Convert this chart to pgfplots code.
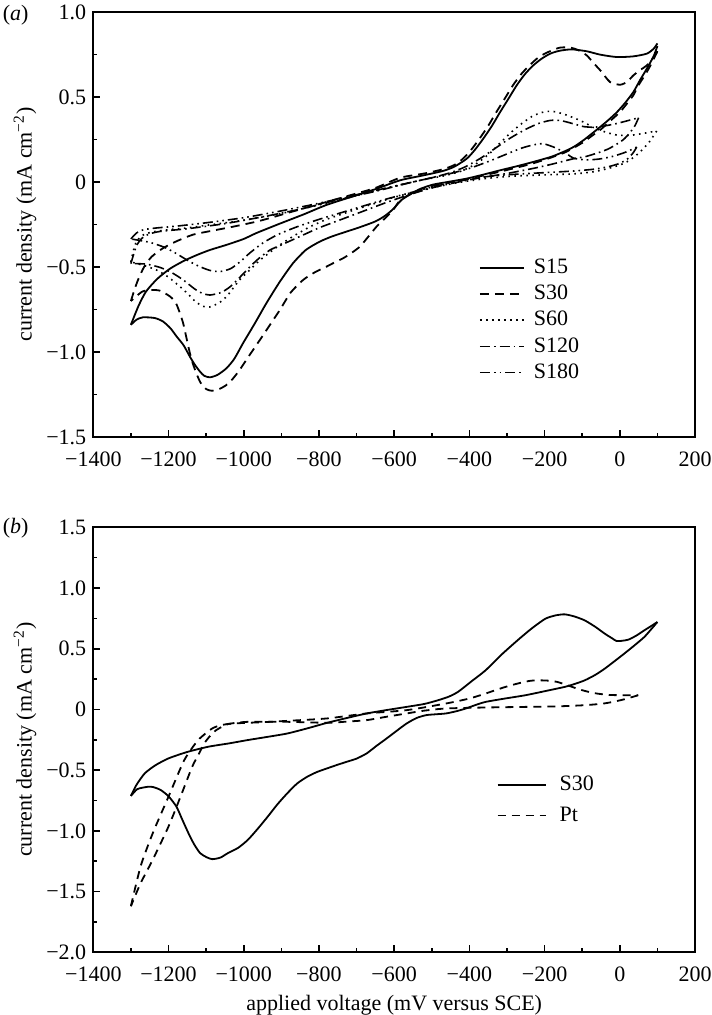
\documentclass[border=0pt]{standalone}
\usepackage{fontspec}
\setmainfont{Liberation Serif}
\usepackage{pgfplots}
\pgfplotsset{compat=1.18}
\begin{document}
\begin{tikzpicture}[font=\fontsize{11}{13}\selectfont]
\useasboundingbox (0,0) rectangle (355.5pt,507.5pt);
\pgfplotsset{
  cvaxis/.style={
    scale only axis, width=300.85pt, height=212.5pt, anchor=south west,
    xmin=-1400, xmax=200,
    xtick={-1400,-1200,-1000,-800,-600,-400,-200,0,200},
    xticklabels={−1400,−1200,−1000,−800,−600,−400,−200,0,200},
    minor x tick num=1, minor y tick num=1,
    tick pos=left, tick align=inside,
    major tick length=3.5pt, minor tick length=2pt,
    axis line style={line width=0.9pt},
    every tick/.style={black, line width=0.8pt},
    xticklabel style={yshift=-4pt},
    ylabel={current density (mA cm\textsuperscript{−2})},
    ylabel style={at={(axis description cs:-0.1135,0.5)}, anchor=center},
    legend cell align=left,
  },
  s15/.style={black, line width=0.9pt, smooth, tension=0.4},
  s30/.style={black, line width=0.9pt, smooth, tension=0.4, dash pattern=on 4.5pt off 3pt},
  s60/.style={black, line width=0.8pt, smooth, tension=0.4, dash pattern=on 0.8pt off 2.2pt},
  s120/.style={black, line width=0.8pt, smooth, tension=0.4, dash pattern=on 5pt off 2pt on 0.8pt off 2pt},
  s180/.style={black, line width=0.8pt, smooth, tension=0.4, dash pattern=on 5pt off 2pt on 0.8pt off 2pt on 0.8pt off 2pt},
}
% ---------------- panel (a) ----------------
\begin{axis}[cvaxis, at={(46.65pt,289pt)},
  ymin=-1.5, ymax=1.0,
  ytick={-1.5,-1,-0.5,0,0.5,1},
  yticklabels={−1.5,−1.0,−0.5,0,0.5,1.0},
  legend image code/.code={\draw[#1] (0pt,0pt) -- (22pt,0pt);},
  legend style={draw=none, fill=none, at={(0.6405,0.427)}, anchor=north west,
    inner sep=0pt, row sep=1.3pt, nodes={inner sep=1.5pt},
    /tikz/every odd column/.append style={column sep=3pt}},
]
% S15
\addplot[s15] coordinates {(-1300,-0.84) (-1280,-0.73) (-1260,-0.645) (-1230,-0.57) (-1196,-0.51) (-1160,-0.465) (-1125,-0.43) (-1090,-0.40) (-1046,-0.37) (-1000,-0.335) (-966,-0.30) (-904,-0.245) (-840,-0.19) (-780,-0.135) (-710,-0.085) (-647,-0.04) (-584,0.01) (-520,0.04) (-470,0.065) (-440,0.09) (-407,0.137) (-385,0.19) (-363,0.255) (-340,0.33) (-318,0.412) (-296,0.49) (-274,0.569) (-252,0.635) (-230,0.686) (-208,0.725) (-185,0.755) (-160,0.772) (-128,0.78) (-88,0.769) (-52,0.749) (-8,0.735) (36,0.739) (72,0.755) (90,0.784) (100,0.815)};
\addlegendentry{S15}
\addplot[s15, forget plot] coordinates {(100,0.80) (90,0.74) (72,0.667) (54,0.60) (36,0.529) (14,0.465) (-8,0.41) (-30,0.365) (-52,0.324) (-75,0.283) (-97,0.245) (-120,0.21) (-141,0.186) (-180,0.15) (-230,0.118) (-275,0.092) (-318,0.069) (-360,0.045) (-407,0.02) (-450,0.003) (-496,-0.015) (-530,-0.04) (-555,-0.07) (-580,-0.105) (-603,-0.16) (-625,-0.20) (-650,-0.232) (-690,-0.265) (-727,-0.292) (-765,-0.32) (-798,-0.351) (-835,-0.40) (-869,-0.478) (-905,-0.59) (-940,-0.714) (-970,-0.83) (-1002,-0.949) (-1025,-1.04) (-1046,-1.096) (-1070,-1.135) (-1090,-1.149) (-1105,-1.14) (-1116,-1.116) (-1130,-1.075) (-1143,-1.028) (-1160,-0.96) (-1178,-0.91) (-1195,-0.86) (-1215,-0.82) (-1237,-0.80) (-1268,-0.796) (-1285,-0.81) (-1300,-0.84)};
% S30
\addplot[s30] coordinates {(-1300,-0.70) (-1290,-0.63) (-1280,-0.57) (-1265,-0.50) (-1245,-0.44) (-1215,-0.39) (-1180,-0.35) (-1135,-0.31) (-1080,-0.285) (-1033,-0.265) (-960,-0.23) (-880,-0.18) (-800,-0.13) (-720,-0.08) (-650,-0.035) (-584,0.025) (-520,0.05) (-470,0.075) (-440,0.10) (-417,0.137) (-395,0.19) (-373,0.255) (-350,0.33) (-328,0.412) (-306,0.49) (-284,0.569) (-262,0.635) (-240,0.686) (-218,0.73) (-195,0.76) (-160,0.79) (-130,0.79) (-110,0.775) (-88,0.745) (-70,0.70) (-52,0.657) (-26,0.588) (1,0.572) (20,0.59) (36,0.627) (55,0.66) (72,0.686) (94,0.745) (100,0.77)};
\addlegendentry{S30}
\addplot[s30, forget plot] coordinates {(100,0.77) (85,0.70) (70,0.64) (50,0.57) (36,0.51) (15,0.45) (0,0.41) (-25,0.36) (-50,0.31) (-75,0.27) (-100,0.23) (-150,0.17) (-230,0.11) (-320,0.06) (-410,0.015) (-470,-0.01) (-520,-0.035) (-560,-0.075) (-585,-0.11) (-603,-0.165) (-625,-0.215) (-647,-0.263) (-670,-0.325) (-691,-0.38) (-715,-0.42) (-736,-0.449) (-760,-0.475) (-780,-0.498) (-810,-0.53) (-842,-0.576) (-875,-0.65) (-904,-0.753) (-930,-0.84) (-957,-0.929) (-985,-1.02) (-1011,-1.106) (-1030,-1.16) (-1046,-1.194) (-1065,-1.218) (-1085,-1.228) (-1100,-1.218) (-1115,-1.18) (-1126,-1.125) (-1135,-1.07) (-1143,-1.008) (-1152,-0.92) (-1161,-0.831) (-1170,-0.77) (-1180,-0.714) (-1195,-0.675) (-1222,-0.64) (-1245,-0.635) (-1270,-0.645) (-1300,-0.70)};
% S60
\addplot[s60] coordinates {(-1300,-0.47) (-1293,-0.40) (-1285,-0.35) (-1270,-0.315) (-1245,-0.295) (-1200,-0.28) (-1150,-0.27) (-1100,-0.255) (-1000,-0.225) (-900,-0.185) (-800,-0.135) (-700,-0.08) (-600,-0.025) (-530,0.01) (-470,0.035) (-420,0.065) (-380,0.11) (-345,0.17) (-318,0.23) (-290,0.29) (-260,0.345) (-230,0.39) (-200,0.413) (-177,0.415) (-150,0.40) (-114,0.37) (-90,0.345) (-70,0.32) (-40,0.295) (-8,0.276) (30,0.275) (60,0.285) (98,0.30)};
\addlegendentry{S60}
\addplot[s60, forget plot] coordinates {(98,0.30) (80,0.24) (60,0.19) (40,0.15) (20,0.12) (0,0.10) (-30,0.08) (-70,0.06) (-120,0.048) (-200,0.042) (-280,0.035) (-350,0.022) (-420,0.0) (-480,-0.025) (-540,-0.055) (-600,-0.09) (-650,-0.125) (-700,-0.16) (-740,-0.19) (-780,-0.22) (-825,-0.265) (-869,-0.32) (-910,-0.38) (-957,-0.46) (-985,-0.52) (-1011,-0.576) (-1030,-0.63) (-1046,-0.675) (-1065,-0.71) (-1090,-0.735) (-1110,-0.73) (-1130,-0.70) (-1150,-0.655) (-1170,-0.615) (-1200,-0.56) (-1230,-0.52) (-1260,-0.495) (-1300,-0.47)};
% S120
\addplot[s120] coordinates {(-1300,-0.48) (-1292,-0.42) (-1284,-0.37) (-1270,-0.33) (-1250,-0.305) (-1220,-0.29) (-1150,-0.275) (-1050,-0.245) (-950,-0.205) (-850,-0.16) (-750,-0.105) (-650,-0.055) (-560,-0.005) (-500,0.025) (-450,0.055) (-410,0.09) (-370,0.14) (-330,0.20) (-290,0.26) (-250,0.31) (-215,0.345) (-185,0.362) (-160,0.362) (-141,0.353) (-115,0.337) (-97,0.326) (-70,0.322) (-40,0.33) (-10,0.343) (20,0.36) (50,0.378)};
\addlegendentry{S120}
\addplot[s120, forget plot] coordinates {(50,0.378) (40,0.33) (25,0.285) (10,0.25) (-10,0.22) (-30,0.195) (-52,0.176) (-90,0.15) (-123,0.137) (-180,0.105) (-230,0.08) (-300,0.05) (-370,0.025) (-440,-0.005) (-500,-0.035) (-560,-0.075) (-620,-0.12) (-680,-0.17) (-740,-0.22) (-800,-0.27) (-860,-0.33) (-900,-0.37) (-930,-0.40) (-960,-0.45) (-983,-0.498) (-1010,-0.56) (-1036,-0.616) (-1060,-0.65) (-1090,-0.665) (-1110,-0.655) (-1130,-0.63) (-1161,-0.576) (-1190,-0.535) (-1222,-0.503) (-1260,-0.483) (-1300,-0.48)};
% S180
\addplot[s180] coordinates {(-1300,-0.335) (-1285,-0.30) (-1265,-0.28) (-1230,-0.27) (-1180,-0.26) (-1100,-0.24) (-1000,-0.21) (-900,-0.17) (-800,-0.125) (-700,-0.075) (-600,-0.025) (-520,0.015) (-450,0.05) (-400,0.08) (-350,0.12) (-300,0.165) (-260,0.20) (-230,0.218) (-203,0.225) (-170,0.20) (-141,0.166) (-123,0.14) (-90,0.13) (-55,0.135) (-20,0.15) (15,0.175) (45,0.205)};
\addlegendentry{S180}
\addplot[s180, forget plot] coordinates {(45,0.205) (35,0.17) (20,0.135) (0,0.11) (-30,0.09) (-70,0.075) (-120,0.065) (-200,0.055) (-280,0.045) (-360,0.03) (-440,0.0) (-500,-0.03) (-560,-0.065) (-620,-0.10) (-680,-0.14) (-740,-0.18) (-800,-0.22) (-860,-0.265) (-910,-0.31) (-950,-0.36) (-985,-0.42) (-1010,-0.47) (-1035,-0.51) (-1063,-0.527) (-1090,-0.52) (-1120,-0.495) (-1150,-0.46) (-1180,-0.42) (-1210,-0.385) (-1250,-0.355) (-1300,-0.335)};
\end{axis}
% ---------------- panel (b) ----------------
\begin{axis}[cvaxis, at={(46.65pt,31.35pt)},
  ymin=-2.0, ymax=1.5,
  ytick={-2,-1.5,-1,-0.5,0,0.5,1,1.5},
  yticklabels={−2.0,−1.5,−1.0,−0.5,0,0.5,1.0,1.5},
  xlabel={applied voltage (mV versus SCE)},
  xlabel style={at={(axis description cs:0.5,0)}, anchor=center, yshift=-26.3pt},
  legend image code/.code={\draw[#1] (0pt,0pt) -- (24pt,0pt);},
  legend style={draw=none, fill=none, at={(0.670,0.4225)}, anchor=north west,
    inner sep=0pt, row sep=3.5pt, nodes={inner sep=1.5pt},
    /tikz/every odd column/.append style={column sep=5pt}},
]
\addplot[s15] coordinates {(-1300,-0.712) (-1285,-0.62) (-1263,-0.526) (-1235,-0.46) (-1200,-0.403) (-1150,-0.35) (-1094,-0.307) (-1040,-0.28) (-989,-0.252) (-935,-0.225) (-884,-0.198) (-830,-0.155) (-778,-0.11) (-725,-0.07) (-673,-0.033) (-620,-0.005) (-567,0.021) (-520,0.045) (-483,0.076) (-455,0.105) (-430,0.145) (-395,0.23) (-357,0.322) (-315,0.45) (-272,0.569) (-235,0.665) (-198,0.747) (-170,0.775) (-146,0.783) (-120,0.765) (-93,0.733) (-65,0.68) (-40,0.624) (-20,0.585) (-9,0.564) (5,0.565) (23,0.575) (45,0.61) (65,0.651) (85,0.69) (100,0.72)};
\addlegendentry{S30}
\addplot[s15, forget plot] coordinates {(100,0.72) (82,0.655) (65,0.596) (40,0.53) (12,0.46) (-15,0.395) (-40,0.336) (-65,0.285) (-93,0.24) (-120,0.21) (-146,0.186) (-200,0.15) (-251,0.117) (-305,0.09) (-357,0.062) (-385,0.035) (-409,0.008) (-435,-0.015) (-462,-0.033) (-490,-0.04) (-515,-0.047) (-540,-0.07) (-567,-0.116) (-595,-0.18) (-620,-0.239) (-647,-0.30) (-673,-0.362) (-700,-0.405) (-725,-0.43) (-750,-0.455) (-778,-0.485) (-805,-0.515) (-831,-0.554) (-858,-0.61) (-884,-0.69) (-910,-0.78) (-936,-0.882) (-962,-0.98) (-989,-1.074) (-1015,-1.14) (-1042,-1.183) (-1062,-1.22) (-1084,-1.233) (-1100,-1.215) (-1116,-1.183) (-1132,-1.11) (-1147,-1.019) (-1163,-0.91) (-1179,-0.8) (-1200,-0.715) (-1221,-0.663) (-1240,-0.64) (-1252,-0.636) (-1270,-0.645) (-1284,-0.658) (-1300,-0.712)};
\addplot[s30, dash pattern=on 4pt off 3pt] coordinates {(-1300,-1.62) (-1274,-1.29) (-1242,-1.02) (-1200,-0.718) (-1158,-0.417) (-1121,-0.252) (-1084,-0.157) (-1060,-0.13) (-1031,-0.116) (-950,-0.105) (-884,-0.094) (-778,-0.074) (-673,-0.033) (-567,-0.006) (-462,0.049) (-400,0.09) (-357,0.131) (-310,0.18) (-272,0.213) (-240,0.235) (-219,0.24) (-190,0.237) (-167,0.227) (-140,0.20) (-114,0.172) (-90,0.15) (-61,0.131) (-30,0.12) (2,0.117) (49,0.117)};
\addlegendentry{Pt}
\addplot[s30, dash pattern=on 4pt off 3pt, forget plot] coordinates {(49,0.117) (25,0.095) (2,0.076) (-40,0.05) (-93,0.035) (-170,0.025) (-251,0.021) (-357,0.016) (-462,0.008) (-520,-0.01) (-567,-0.033) (-620,-0.06) (-673,-0.088) (-725,-0.10) (-778,-0.11) (-884,-0.102) (-989,-0.102) (-1042,-0.121) (-1073,-0.17) (-1090,-0.22) (-1105,-0.28) (-1120,-0.37) (-1137,-0.472) (-1168,-0.718) (-1200,-0.964) (-1242,-1.238) (-1274,-1.43) (-1300,-1.62)};
\end{axis}
\node at (7.8pt,500pt) {(\textit{a})};
\node at (7.8pt,243.3pt) {(\textit{b})};
\end{tikzpicture}
\end{document}
